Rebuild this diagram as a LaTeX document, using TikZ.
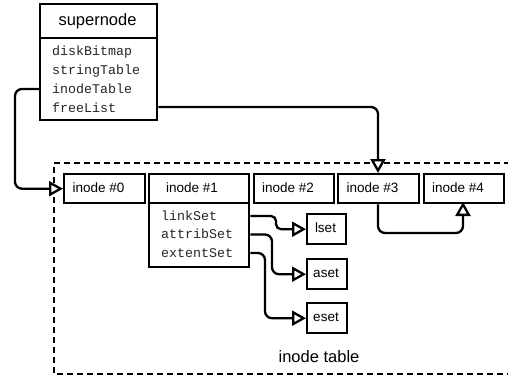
\documentclass[tikz,border=0pt]{standalone}
\usepackage{fontspec}
\setmainfont{Liberation Sans}
\setmonofont{Liberation Mono}
\usetikzlibrary{arrows.meta}
\begin{document}
\begin{tikzpicture}[x=1pt,y=-1pt,
  box/.style={draw,line width=2.4pt,inner sep=0pt,anchor=north west},
  lbl/.style={inner sep=0pt,font=\fontsize{13.5}{16}\selectfont,text height=11pt,text depth=2pt},
  ttl/.style={inner sep=0pt,font=\fontsize{16.5}{19}\selectfont,text height=12pt,text depth=3pt},
  fld/.style={inner sep=0pt,anchor=west,text=black!85,font=\ttfamily\fontsize{13.3}{16}\selectfont,text height=10pt,text depth=2pt},
  conn/.style={line width=2.3pt,rounded corners=7pt},
  tip/.style={-{Triangle[open,length=14pt,width=15pt,line width=2.3pt,fill=white]}},
  frame/.style={line width=2.4pt,dash pattern=on 6pt off 4pt}]
\useasboundingbox (0,0) rectangle (508,381);
\path[fill=white] (0,0) rectangle (508,381);
% inode table frame
\draw[frame] (520,163) -- (54,163) -- (54,374) -- (520,374);
\node[ttl] (tbl) at (319,358) {inode table};
% supernode
\node[box,minimum width=117pt,minimum height=34pt] (sn) at (39,3) {};
\node[ttl] (snt) at (97.5,21) {supernode};
\node[box,minimum width=117pt,minimum height=82pt] (snf) at (39,37) {};
\node[fld] (dbm) at (52,51) {diskBitmap};
\node[fld] (stt) at (52,70) {stringTable};
\node[fld] (int) at (52,89) {inodeTable};
\node[fld] (frl) at (52,108) {freeList};
% inodes
\node[box,minimum width=81pt,minimum height=29pt] (i0) at (63,173) {};
\node[lbl] (i0t) at (98.5,187.5) {inode \#0};
\node[box,minimum width=100pt,minimum height=29pt] (i1) at (148,173) {};
\node[lbl] (i1t) at (192,187.5) {inode \#1};
\node[box,minimum width=100pt,minimum height=64pt] (i1f) at (148,202) {};
\node[fld] (ls) at (161,216) {linkSet};
\node[fld] (as) at (161,234.5) {attribSet};
\node[fld] (es) at (161,253) {extentSet};
\node[box,minimum width=80pt,minimum height=29pt] (i2) at (253,173) {};
\node[lbl] (i2t) at (288,187.5) {inode \#2};
\node[box,minimum width=81pt,minimum height=29pt] (i3) at (337,173) {};
\node[lbl] (i3t) at (372.5,187.5) {inode \#3};
\node[box,minimum width=80pt,minimum height=29pt] (i4) at (423,173) {};
\node[lbl] (i4t) at (458,187.5) {inode \#4};
% sets
\node[box,minimum width=39pt,minimum height=30pt] (lset) at (306,213) {};
\node[lbl] (lsett) at (325.5,228) {lset};
\node[box,minimum width=40pt,minimum height=30pt] (aset) at (306,258) {};
\node[lbl] (asett) at (326,273) {aset};
\node[box,minimum width=40pt,minimum height=30pt] (eset) at (306,302) {};
\node[lbl] (esett) at (326,317) {eset};
% connectors
\coordinate (c1) at (15,0);
\draw[conn,tip] (snf.west |- int) -- (c1 |- int) |- (i0.west);
\coordinate (c2) at (378,0);
\draw[conn,tip] (snf.east |- 0,107) -- (c2 |- 0,107) -- (c2 |- i3.north);
\coordinate (c3) at (0,233);
\draw[conn,tip] (i3.south -| c2) |- (c3 -| 463,0) -- (463,202);
\coordinate (c4) at (276,0);
\draw[conn,rounded corners=5pt,tip] (i1f.east |- ls) -- (c4 |- ls) |- (lset.west);
\coordinate (c5) at (272,0);
\draw[conn,tip] (i1f.east |- as) -- (c5 |- as) |- (aset.west);
\coordinate (c6) at (265,0);
\draw[conn,tip] (i1f.east |- es) -- (c6 |- es) |- (eset.west);
\end{tikzpicture}
\end{document}
